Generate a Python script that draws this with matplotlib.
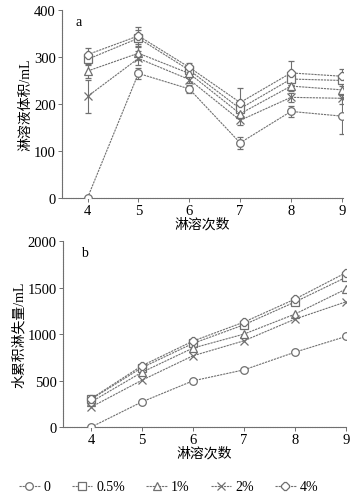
import matplotlib as mpl
import matplotlib.pyplot as plt
import numpy as np

mpl.rcParams.update(
    {
        "font.family": ["Liberation Serif", "Noto Sans CJK SC"],
        "font.size": 10.5,
        "axes.linewidth": 0.8,
    }
)

# %% Data
runs = [4, 5, 6, 7, 8, 9]
treatments = ["0", "0.5%", "1%", "2%", "4%"]

# (a) leachate volume per leaching event, mL
vol_0 = [0, 265, 232, 117, 184, 174]
vol_05 = [295, 340, 272, 190, 253, 250]
vol_1 = [270, 308, 265, 179, 238, 230]
vol_2 = [216, 297, 252, 165, 214, 212]
vol_4 = [305, 345, 278, 203, 266, 259]

err_0 = [0, 12, 8, 12, 12, 38]
err_05 = [12, 18, 8, 10, 12, 12]
err_1 = [15, 15, 8, 10, 10, 12]
err_2 = [35, 15, 8, 10, 10, 12]
err_4 = [15, 18, 10, 30, 25, 15]

# (b) cumulative water loss, mL
cum_0 = [0, 272, 498, 616, 806, 975]
cum_05 = [300, 640, 900, 1100, 1345, 1610]
cum_1 = [270, 590, 850, 1000, 1215, 1484]
cum_2 = [215, 505, 767, 928, 1161, 1347]
cum_4 = [305, 660, 925, 1129, 1376, 1660]

volumes = [vol_0, vol_05, vol_1, vol_2, vol_4]
errors = [err_0, err_05, err_1, err_2, err_4]
cumulative = [cum_0, cum_05, cum_1, cum_2, cum_4]
markers = ["o", "s", "^", "x", "8"]

GREY = "#707070"
LINE_STYLE = (0, (2, 0.8))


def style_axes(ax):
    for side in ("top", "right"):
        ax.spines[side].set_visible(False)
    for side in ("left", "bottom"):
        ax.spines[side].set_color(GREY)
        ax.spines[side].set_linestyle((0, (1.5, 0.6)))
    ax.tick_params(direction="out", length=3, width=0.7, color=GREY, pad=1.5,
                   labelsize=10.5)
    ax.set_xticks(runs)


fig = plt.figure(figsize=(3.59, 5.02), dpi=100)
ax_a = fig.add_axes([0.173, 0.604, 0.782, 0.374])
ax_b = fig.add_axes([0.175, 0.147, 0.789, 0.371])

for vals, errs, mk in zip(volumes, errors, markers):
    ax_a.errorbar(
        runs, vals, yerr=errs, color=GREY, linestyle=LINE_STYLE, linewidth=0.8,
        marker=mk, markersize=5.5, markerfacecolor="white", markeredgecolor=GREY,
        markeredgewidth=0.9, ecolor=GREY, elinewidth=0.8, capsize=2.5, zorder=3,
    )

handles = []
for vals, mk, lab in zip(cumulative, markers, treatments):
    (h,) = ax_b.plot(
        runs, vals, color=GREY, linestyle=LINE_STYLE, linewidth=0.8,
        marker=mk, markersize=5.5, markerfacecolor="white", markeredgecolor=GREY,
        markeredgewidth=0.9, label=lab, zorder=3,
    )
    handles.append(h)

style_axes(ax_a)
ax_a.set_xlim(3.5, 9.02)
ax_a.set_ylim(0, 400)
ax_a.set_yticks([0, 100, 200, 300, 400])
ax_a.set_ylabel("淋溶液体积/mL", fontsize=10, labelpad=1)
ax_a.set_xlabel("淋溶次数", fontsize=10, labelpad=0)
ax_a.text(0.06, 0.94, "a", transform=ax_a.transAxes, fontsize=10, ha="center", va="center")

style_axes(ax_b)
ax_b.set_xlim(3.45, 9.0)
ax_b.set_ylim(0, 2000)
ax_b.set_yticks([0, 500, 1000, 1500, 2000])
ax_b.set_ylabel("水累积淋失量/mL", fontsize=10, labelpad=1)
ax_b.set_xlabel("淋溶次数", fontsize=10, labelpad=0)
ax_b.text(0.075, 0.94, "b", transform=ax_b.transAxes, fontsize=10, ha="center", va="center")

fig.legend(
    handles=handles, labels=treatments, loc="center", bbox_to_anchor=(0.47, 0.028),
    ncol=5, frameon=False, fontsize=10, handlelength=1.5, handletextpad=0.3,
    columnspacing=1.5, borderaxespad=0,
)

fig.savefig("out.png", dpi=100)
